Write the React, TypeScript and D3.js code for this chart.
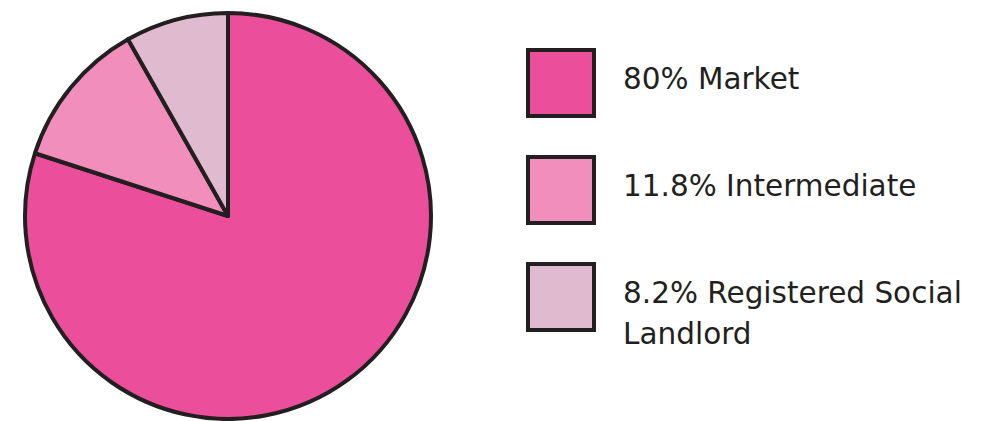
import React, { useEffect, useRef } from 'react';
import * as d3 from 'd3';

const labels = ['80% Market', '11.8% Intermediate', '8.2% Registered Social Landlord'];
const legendLines = [['80% Market'], ['11.8% Intermediate'], ['8.2% Registered Social', 'Landlord']];
const values = [80, 11.8, 8.2];
const colors = ['#eb4f9b', '#f28ebb', '#e0bace'];

const W = 982;
const H = 421;

const App = () => {
  const ref = useRef<SVGSVGElement>(null);

  useEffect(() => {
    if (!ref.current) return;
    const svg = d3.select(ref.current);
    svg.selectAll('*').remove();

    // pie, clockwise from 12 o'clock
    const cx = 228, cy = 216, r = 203;
    const pie = d3.pie<number>().sort(null).value(d => d);
    const arc = d3.arc<d3.PieArcDatum<number>>().innerRadius(0).outerRadius(r);

    const g = svg.append('g').attr('transform', `translate(${cx},${cy})`);
    g.selectAll('path')
      .data(pie(values))
      .enter()
      .append('path')
      .attr('d', arc)
      .attr('fill', (d, i) => colors[i])
      .attr('stroke', '#231f20')
      .attr('stroke-width', 4)
      .attr('stroke-linejoin', 'round');

    // legend
    const y = d3.scaleBand<number>().domain(d3.range(labels.length)).range([49, 370]).paddingInner(0);
    const lg = svg.selectAll('.legend')
      .data(labels)
      .enter()
      .append('g')
      .attr('class', 'legend')
      .attr('transform', (d, i) => `translate(528,${y(i)! + 1})`);

    lg.append('rect')
      .attr('width', 66)
      .attr('height', 66)
      .attr('fill', (d, i) => colors[i])
      .attr('stroke', '#231f20')
      .attr('stroke-width', 4);

    lg.each(function (d, i) {
      const t = d3.select(this).append('text')
        .attr('x', 95)
        .attr('y', 39)
        .attr('font-family', '"DejaVu Sans", sans-serif')
        .attr('font-size', 29.5)
        .attr('fill', '#231f20');
      legendLines[i].forEach((line, j) => {
        t.append('tspan').attr('x', 95).attr('dy', j === 0 ? 0 : 41).text(line);
      });
    });
  }, []);

  return (
    <svg ref={ref} width={W} height={H} style={{ position: 'absolute', left: 0, top: 0, background: '#fff' }} />
  );
};

export default App;
